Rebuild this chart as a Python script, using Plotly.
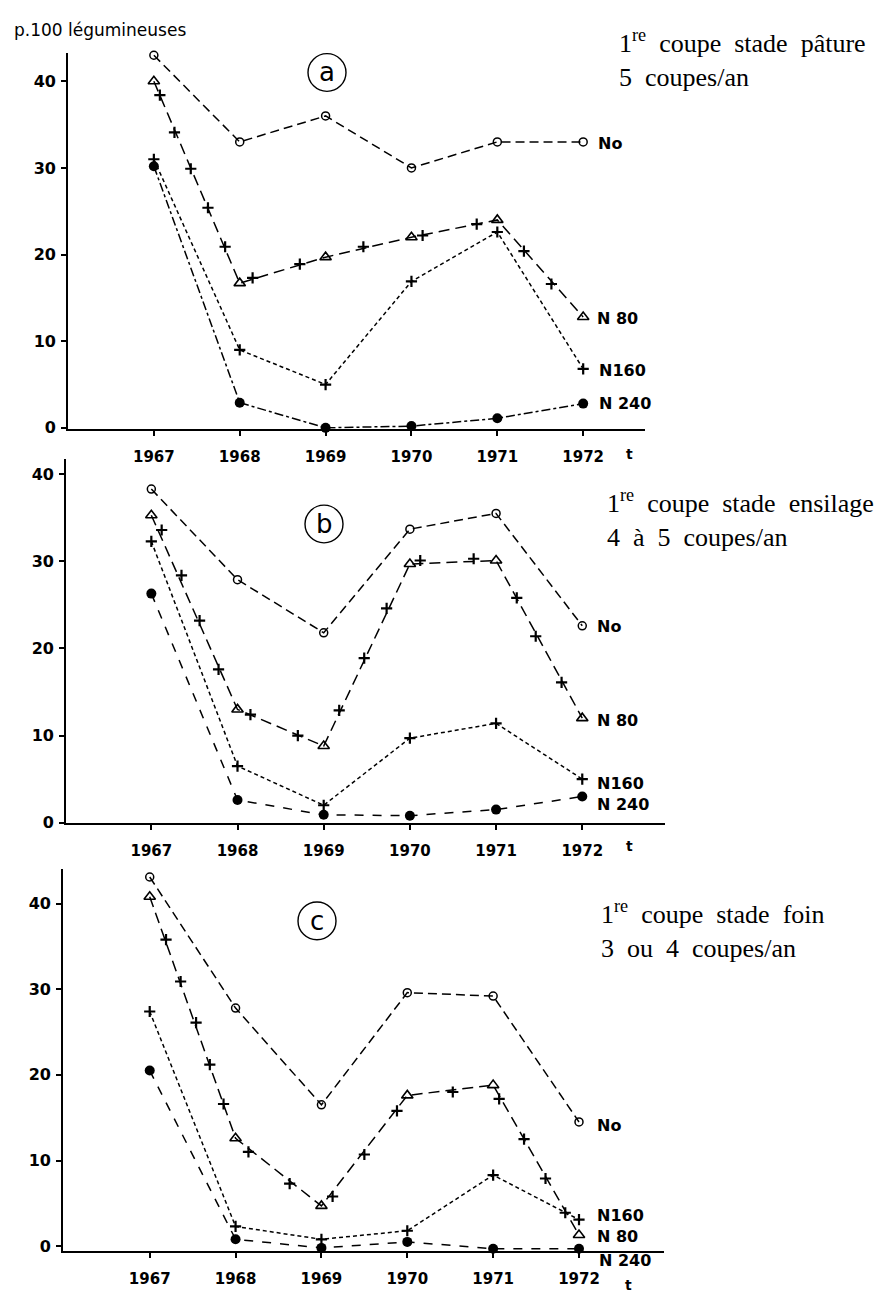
import plotly.graph_objects as go

W, H = 884, 1293

years = [1967, 1968, 1969, 1970, 1971, 1972]
year_labels = ["1967", "1968", "1969", "1970", "1971", "1972"]
y_ticks = [0, 10, 20, 30, 40]

# Panel a : 1re coupe stade pâture
a_No = [43, 33, 36, 30, 33, 33]
a_N80 = [40, 16.7, 19.7, 22, 24, 12.8]
a_N160 = [31, 9, 5, 16.9, 22.6, 6.8]
a_N240 = [30.2, 2.9, 0, 0.2, 1.1, 2.8]
a_cross_x = [1967.07, 1967.24, 1967.43, 1967.63, 1967.83, 1968.15, 1968.7, 1969.44, 1970.13, 1970.76, 1971.31, 1971.63]
a_cross_y = [38.4, 34.1, 29.9, 25.4, 20.9, 17.3, 18.9, 20.9, 22.2, 23.5, 20.4, 16.6]

# Panel b : 1re coupe stade ensilage
b_No = [38.3, 27.9, 21.8, 33.7, 35.5, 22.6]
b_N80 = [35.3, 13, 8.8, 29.7, 30.1, 12]
b_N160 = [32.3, 6.5, 2, 9.7, 11.4, 5]
b_N240 = [26.3, 2.6, 0.9, 0.8, 1.5, 3]
b_cross_x = [1967.12, 1967.35, 1967.56, 1967.78, 1968.15, 1968.7, 1969.18, 1969.47, 1969.73, 1970.12, 1970.74, 1971.24, 1971.46, 1971.76]
b_cross_y = [33.6, 28.4, 23.2, 17.6, 12.4, 10, 12.9, 18.9, 24.6, 30.1, 30.3, 25.8, 21.4, 16.1]

# Panel c : 1re coupe stade foin
c_No = [43.1, 27.8, 16.5, 29.6, 29.2, 14.5]
c_N80 = [40.8, 12.6, 4.7, 17.6, 18.8, 1.3]
c_N160 = [27.4, 2.3, 0.8, 1.8, 8.3, 3.1]
c_N240 = [20.5, 0.8, -0.2, 0.5, -0.3, -0.3]
c_cross_x = [1967.19, 1967.36, 1967.54, 1967.7, 1967.86, 1968.15, 1968.63, 1969.13, 1969.5, 1969.88, 1970.53, 1971.07, 1971.36, 1971.61, 1971.84]
c_cross_y = [35.8, 30.9, 26.1, 21.2, 16.6, 11.0, 7.3, 5.8, 10.7, 15.8, 18.0, 17.2, 12.5, 7.9, 3.9]

panel_letters = ["a", "b", "c"]
panel_titles = [
    "1<sup>re</sup>  coupe  stade  pâture<br>5  coupes/an",
    "1<sup>re</sup>  coupe  stade  ensilage<br>4  à  5  coupes/an",
    "1<sup>re</sup>  coupe  stade  foin<br>3  ou  4  coupes/an",
]

panels = [
    dict(No=a_No, N80=a_N80, N160=a_N160, N240=a_N240, cx=a_cross_x, cy=a_cross_y,
         xpx=(60, 637), ypx=(45, 424), xr=[1966.0, 1972.72], yr=[-0.1, 43.3],
         n240dash="dashdot",
         labels=[("No", 588, 137), ("N 80", 587, 313), ("N160", 589, 365), ("N 240", 589, 399)],
         title=(609, 15), circle=(319, 65), tpos=(621, 449)),
    dict(No=b_No, N80=b_N80, N160=b_N160, N240=b_N240, cx=b_cross_x, cy=b_cross_y,
         xpx=(58, 657), ypx=(455, 821), xr=[1966.01, 1972.96], yr=[0, 41.7],
         n240dash="dash",
         labels=[("No", 587, 623), ("N 80", 587, 718), ("N160", 587, 782), ("N 240", 587, 803)],
         title=(597, 479), circle=(316, 520), tpos=(621, 845)),
    dict(No=c_No, N80=c_N80, N160=c_N160, N240=c_N240, cx=c_cross_x, cy=c_cross_y,
         xpx=(55, 656), ypx=(868, 1253), xr=[1965.99, 1972.99], yr=[-0.6, 44],
         n240dash="dash",
         labels=[("No", 587, 1126), ("N160", 587, 1217), ("N 80", 587, 1238), ("N 240", 589, 1262)],
         title=(591, 893), circle=(309, 920), tpos=(620, 1287)),
]

def px(x):
    return x / W

def py(y):
    return 1 - y / H

fig = go.Figure()
annotations = []
shapes = []
xtick_font = dict(family="DejaVu Sans", size=15, color="black", weight="bold")
ytick_font = dict(family="DejaVu Sans", size=16, color="black", weight="bold")
label_font = dict(family="DejaVu Sans", size=16, color="black", weight="bold")

for i, p in enumerate(panels):
    sfx = "" if i == 0 else str(i + 1)
    xa, ya = "x" + sfx, "y" + sfx
    common = dict(xaxis=xa, yaxis=ya, showlegend=False, hoverinfo="skip", cliponaxis=False)
    fig.add_trace(go.Scatter(x=years, y=p["No"], mode="lines+markers",
                             line=dict(color="black", width=1.5, dash="9px,5px"),
                             marker=dict(symbol="circle-open", size=8, color="black", line=dict(width=1.5)),
                             **common))
    fig.add_trace(go.Scatter(x=years, y=p["N80"], mode="lines+markers",
                             line=dict(color="black", width=1.5, dash="11px,6px"),
                             marker=dict(symbol="triangle-up-open", size=10, color="black", line=dict(width=1.6)),
                             **common))
    fig.add_trace(go.Scatter(x=p["cx"], y=p["cy"], mode="markers",
                             marker=dict(symbol="cross-thin", size=8, color="black", line=dict(width=2.2, color="black")),
                             **common))
    fig.add_trace(go.Scatter(x=years, y=p["N160"], mode="lines+markers",
                             line=dict(color="black", width=1.5, dash="4px,3px"),
                             marker=dict(symbol="cross-thin", size=8, color="black", line=dict(width=2.2, color="black")),
                             **common))
    fig.add_trace(go.Scatter(x=years, y=p["N240"], mode="lines+markers",
                             line=dict(color="black", width=1.5, dash=p["n240dash"]),
                             marker=dict(symbol="circle", size=10, color="black"),
                             **common))

    axis_common = dict(showgrid=False, zeroline=False, showline=True, linecolor="black", linewidth=1.8,
                       ticks="outside", ticklen=5, tickwidth=1.6, tickcolor="black")
    fig.update_layout(**{
        ("xaxis" + sfx): dict(domain=[px(p["xpx"][0]), px(p["xpx"][1])], range=p["xr"], anchor=ya,
                              tickvals=years, ticktext=year_labels, ticklabelstandoff=8,
                              tickfont=xtick_font, **axis_common),
        ("yaxis" + sfx): dict(domain=[py(p["ypx"][1]), py(p["ypx"][0])], range=p["yr"], anchor=xa,
                              tickvals=y_ticks, ticktext=[str(v) for v in y_ticks], ticklabelstandoff=2,
                              tickfont=ytick_font, **axis_common),
    })

    for text, lx, ly in p["labels"]:
        annotations.append(dict(x=px(lx), y=py(ly), xref="paper", yref="paper", text=text, showarrow=False,
                                xanchor="left", yanchor="middle", font=label_font))
    tx, ty = p["title"]
    annotations.append(dict(x=px(tx), y=py(ty), xref="paper", yref="paper", text=panel_titles[i],
                            showarrow=False, xanchor="left", yanchor="top", align="left",
                            font=dict(family="Liberation Serif", size=26, color="black")))
    cxp, cyp = p["circle"]
    r = 19
    shapes.append(dict(type="circle", xref="paper", yref="paper",
                       x0=px(cxp - r), x1=px(cxp + r), y0=py(cyp + r), y1=py(cyp - r),
                       line=dict(color="black", width=1.4)))
    annotations.append(dict(x=px(cxp), y=py(cyp), xref="paper", yref="paper", text=panel_letters[i],
                            showarrow=False, xanchor="center", yanchor="middle",
                            font=dict(family="DejaVu Sans", size=26, color="black")))
    tpx, tpy = p["tpos"]
    annotations.append(dict(x=px(tpx), y=py(tpy), xref="paper", yref="paper", text="t",
                            showarrow=False, xanchor="center", yanchor="middle",
                            font=dict(family="DejaVu Sans", size=14, color="black", weight="bold")))

annotations.append(dict(x=px(4), y=py(22), xref="paper", yref="paper", text="p.100 légumineuses",
                        showarrow=False, xanchor="left", yanchor="middle",
                        font=dict(family="DejaVu Sans", size=17, color="black")))

fig.update_layout(width=W, height=H, margin=dict(l=0, r=0, t=0, b=0),
                  paper_bgcolor="white", plot_bgcolor="white",
                  annotations=annotations, shapes=shapes)

fig.write_html("out.html")
